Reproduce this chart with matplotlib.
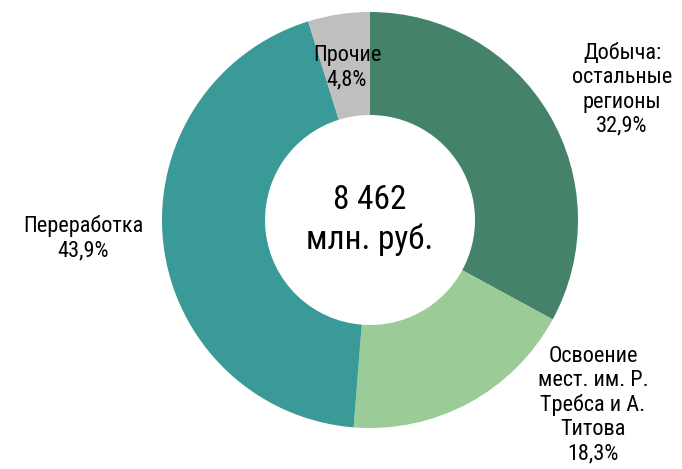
import matplotlib.pyplot as plt

labels = ["Добыча:\nостальные\nрегионы\n32,9%",
          "Освоение\nмест. им. Р.\nТребса и А.\nТитова\n18,3%",
          "Переработка\n43,9%",
          "Прочие\n4,8%"]
shares = [32.9, 18.3, 43.9, 4.8]
colors = ["#44836A", "#9BCC97", "#3A9A98", "#BFBFBF"]
total_text = "8 462\nмлн. руб."

plt.rcParams['font.family'] = ['Roboto Condensed', 'DejaVu Sans']

fig = plt.figure(figsize=(6.82, 4.69), dpi=100)
ax = fig.add_axes([0, 0, 1, 1])

cx, cy, r = 370, 469 - 220, 208
ax.pie(shares, colors=colors, startangle=90, counterclock=False,
       center=(cx, cy), radius=r, frame=True,
       wedgeprops=dict(width=r - 105, linewidth=0))
ax.set_xlim(0, 682)
ax.set_ylim(0, 469)
ax.set_aspect('equal')
ax.axis('off')

pos = [(622, 469 - 90), (593, 469 - 405), (83, 469 - 238), (347, 469 - 68)]
for (x, y), t in zip(pos, labels):
    ax.text(x, y, t, ha='center', va='center', fontsize=16, linespacing=1.2)

ax.text(cx, cy, total_text, ha='center', va='center', fontsize=24,
        linespacing=1.3)

fig.savefig("out.png", dpi=100)
